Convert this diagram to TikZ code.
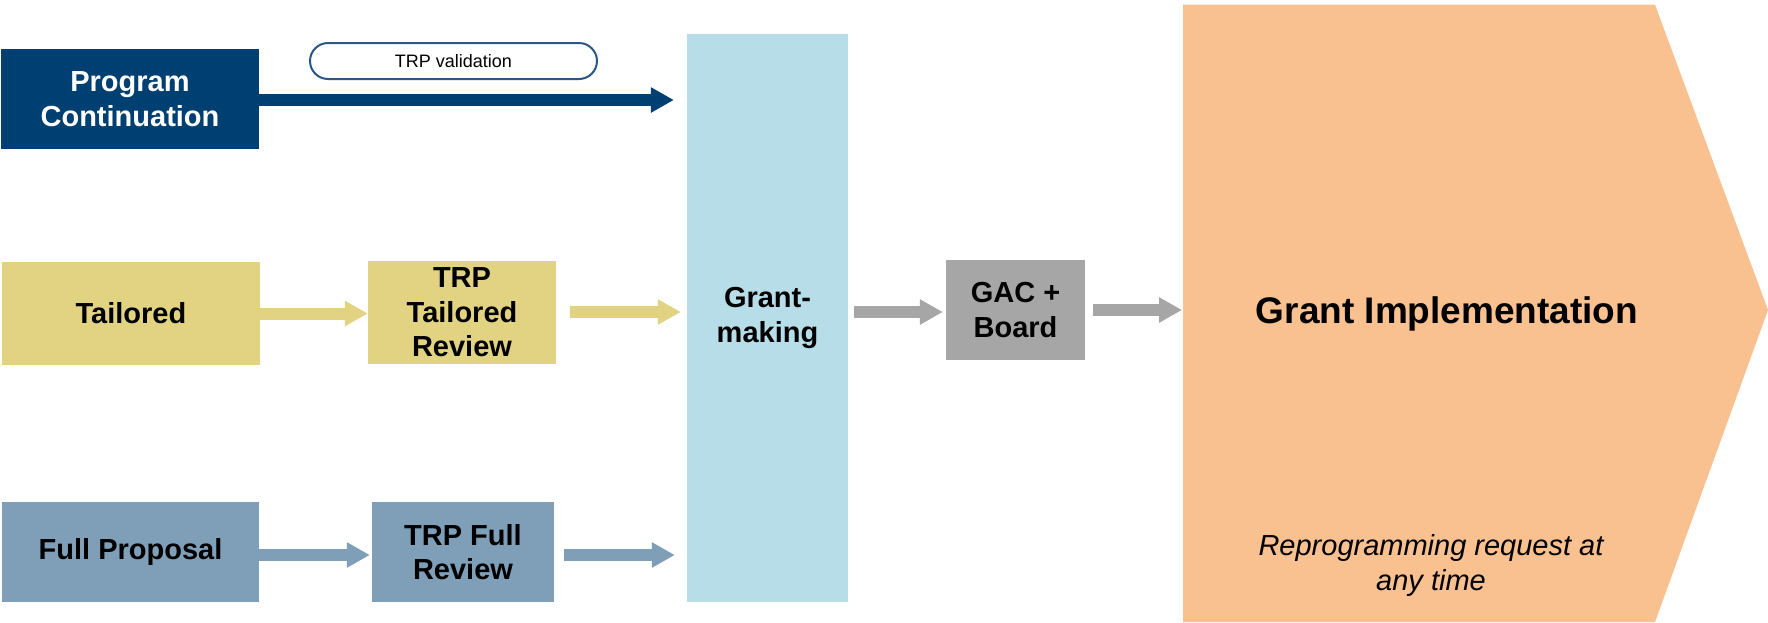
\documentclass[tikz,border=0pt]{standalone}
\usepackage{fontspec}
\setmainfont{Liberation Sans}
\usetikzlibrary{arrows.meta,calc}
\definecolor{navy}{HTML}{003F72}
\definecolor{pillline}{HTML}{2A5788}
\definecolor{tanbox}{HTML}{E2D383}
\definecolor{steel}{HTML}{7F9FB8}
\definecolor{aqua}{HTML}{B7DDE8}
\definecolor{gry}{HTML}{A6A6A6}
\definecolor{peach}{HTML}{F9C090}
\begin{document}
\begin{tikzpicture}[x=1pt,y=-1pt,
  box/.style={rectangle, inner sep=0pt, align=center, text=black,
    font=\fontsize{29}{34.5}\selectfont\bfseries},
  flow/.style={line width=12pt, -{Triangle[length=23pt,width=24pt]}},
  note/.style={inner sep=0pt, align=center, font=\fontsize{29}{35}\selectfont\itshape}]
\useasboundingbox (0,0) rectangle (1768,622);

% Grant implementation chevron
\fill[peach] (1183,4.7) -- (1655,4.7) -- (1768,310) -- (1655,622) -- (1183,622) -- cycle;
\coordinate (impl) at (1183,310);
\node[inner sep=0pt, font=\fontsize{37}{44}\selectfont\bfseries] (impltxt) at (1447,314) {Grant Implementation};
\node[note] (reprog) at (1431,565) {Reprogramming request at\\any time};

% boxes
\node[box, fill=navy, text=white, minimum width=258, minimum height=100] (prog) at (130,99) {Program\\Continuation};
\node[box, fill=tanbox, minimum width=258, minimum height=103] (tail) at (131,313.5) {Tailored};
\node[box, fill=tanbox, minimum width=188, minimum height=103] (trpt) at (462,312.5) {TRP\\Tailored\\Review};
\node[box, fill=steel, minimum width=257, minimum height=100] (full) at (130.5,552) {Full Proposal};
\node[box, fill=steel, minimum width=182, minimum height=100] (trpf) at (463,552) {TRP Full\\Review};
\node[box, fill=aqua, minimum width=161, minimum height=568] (gm) at (767.5,318) {Grant-\\making};
\node[box, fill=gry, minimum width=139, minimum height=100] (gac) at (1015.5,310) {GAC +\\Board};

% pill label
\node[draw=pillline, line width=2pt, rounded corners=18pt, minimum width=287, minimum height=36,
  inner sep=0pt, font=\fontsize{18}{21}\selectfont] (val) at (453.5,61) {TRP validation};

% connectors
\draw[flow, navy, shorten >=13pt] ($(prog.east)+(0,1)$) -- ($(prog.east -| gm.west)+(0,1)$);
\draw[flow, tanbox] (tail.east) -- (tail.east -| trpt.west);
\draw[flow, tanbox, shorten <=14pt, shorten >=6pt] ($(trpt.east)+(0,-0.5)$) -- ($(trpt.east -| gm.west)+(0,-0.5)$);
\draw[flow, steel, shorten >=2pt] ($(full.east)+(0,3)$) -- ($(full.east -| trpf.west)+(0,3)$);
\draw[flow, steel, shorten <=10pt, shorten >=12pt] ($(trpf.east)+(0,3)$) -- ($(trpf.east -| gm.west)+(0,3)$);
\draw[flow, gry, shorten <=6pt, shorten >=3pt] ($(gm.east |- gac.west)+(0,2)$) -- ($(gac.west)+(0,2)$);
\draw[flow, gry, shorten <=8pt, shorten >=1pt] (gac.east) -- (impl);
\end{tikzpicture}
\end{document}
